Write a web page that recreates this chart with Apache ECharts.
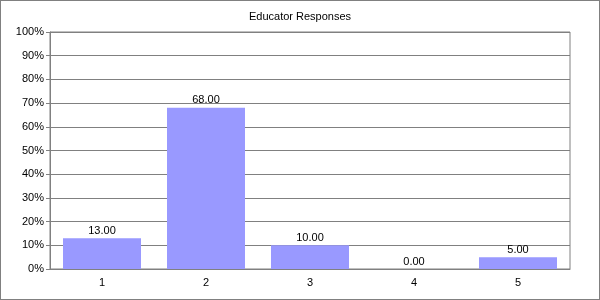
<!DOCTYPE html>
<html><head><meta charset="utf-8">
<script src="https://cdn.jsdelivr.net/npm/echarts@6/dist/echarts.min.js"></script>
<style>html,body{margin:0;padding:0;background:#fff}#c{width:600px;height:300px;box-sizing:border-box;border:1px solid #808080}</style>
</head><body><div id="c"></div>
<script>
const categories = ['1','2','3','4','5'];
const values = [13, 68, 10, 0, 5];
const title = 'Educator Responses';
const chart = echarts.init(document.getElementById('c'), null, {renderer:'canvas'});
const font = 'Liberation Sans, Arial, sans-serif';
chart.setOption({
  animation:false,
  backgroundColor:'#fff',
  title:{text:title,left:'center',top:5,textStyle:{fontFamily:font,fontSize:11,fontWeight:'normal',color:'#000'}},
  grid:{left:49,top:31,right:29,bottom:30,show:true,borderColor:'#808080',borderWidth:1,containLabel:false},
  xAxis:{type:'category',data:categories,
    axisLine:{lineStyle:{color:'#808080'}},
    axisTick:{alignWithLabel:true,length:4,lineStyle:{color:'#808080'}},
    axisLabel:{fontFamily:font,fontSize:11,color:'#000',margin:8}},
  yAxis:{type:'value',min:0,max:100,interval:10,
    axisLine:{show:true,lineStyle:{color:'#808080'}},
    axisTick:{show:true,length:4,lineStyle:{color:'#808080'}},
    splitLine:{lineStyle:{color:'#808080'}},
    axisLabel:{fontFamily:font,fontSize:11,color:'#000',formatter:'{value}%',margin:6}},
  series:[{type:'bar',data:values,barWidth:'75%',itemStyle:{color:'#9999ff'},
    label:{show:true,position:'top',distance:2,fontFamily:font,fontSize:11,color:'#000',formatter:p=>p.value.toFixed(2)}}]
});
</script></body></html>
